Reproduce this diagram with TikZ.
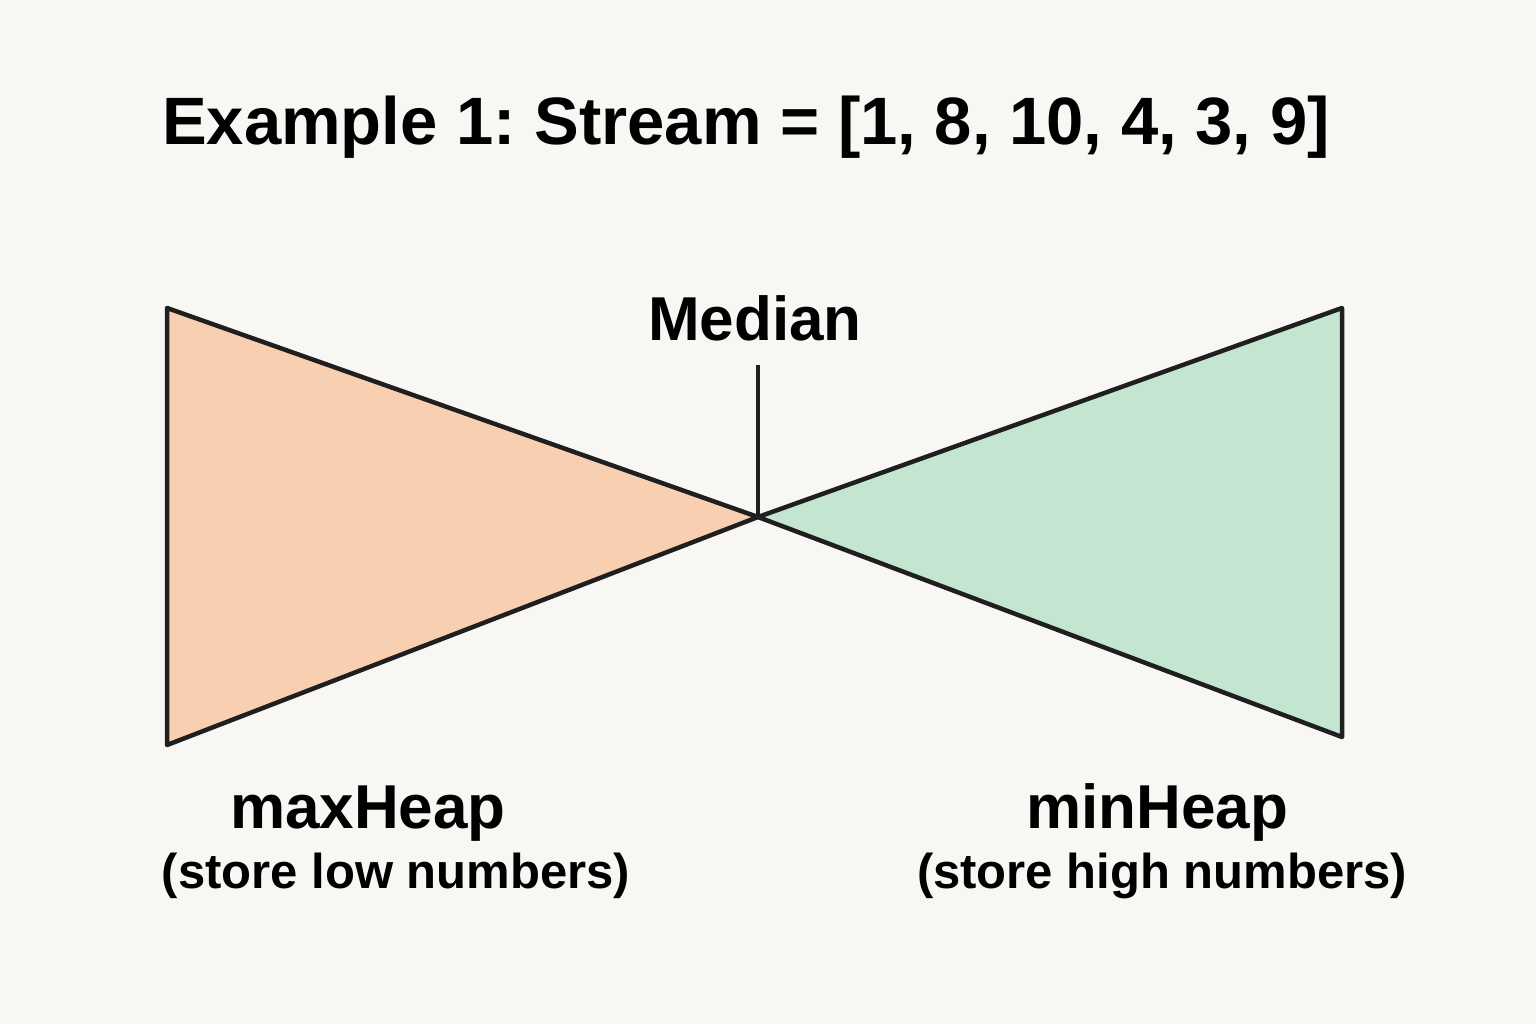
\documentclass[tikz,border=0pt]{standalone}
\usepackage{fontspec}
\setmainfont{Liberation Sans}
\frenchspacing
\begin{document}
\begin{tikzpicture}[x=1pt,y=-1pt,
  edge/.style={draw=black!88,line width=4.5pt,line join=round,line cap=round},
  titletext/.style={anchor=base west,inner sep=0pt,font=\fontsize{67}{80}\selectfont\bfseries},
  bigtext/.style={anchor=base,inner sep=0pt,font=\fontsize{62}{72}\selectfont\bfseries},
  subtext/.style={anchor=base,inner sep=0pt,font=\fontsize{49}{58}\selectfont\bfseries}]
\definecolor{bg}{HTML}{F8F7F4}
\definecolor{peach}{HTML}{F9CFB2}
\definecolor{mint}{HTML}{C4E6D0}
\fill[bg] (0,0) rectangle (1536,1024);
\useasboundingbox (0,0) rectangle (1536,1024);
\coordinate (apex) at (758,517);
\coordinate (lt) at (167,308);
\coordinate (lb) at (167,745);
\coordinate (rt) at (1342,308);
\coordinate (rb) at (1342,737);
\coordinate (mtop) at (758,365);
\fill[peach] (lt) -- (apex) -- (lb) -- cycle;
\fill[mint] (rt) -- (apex) -- (rb) -- cycle;
\draw[edge] (lt) -- (apex) -- (lb) -- cycle;
\draw[edge] (rt) -- (apex) -- (rb) -- cycle;
\draw[edge,line width=3.5pt,line cap=butt] (mtop) -- (apex);
\node[titletext] (title) at (162,145) {Example 1: Stream = [1, 8, 10, 4, 3, 9]};
\node[bigtext] (median) at (755,340) {Median};
\node[bigtext] (maxh) at (368,828) {maxHeap};
\node[subtext] (maxs) at (396,888) {(store low numbers)};
\node[bigtext] (minh) at (1157,828) {minHeap};
\node[subtext] (mins) at (1162,888) {(store high numbers)};
\end{tikzpicture}
\end{document}
